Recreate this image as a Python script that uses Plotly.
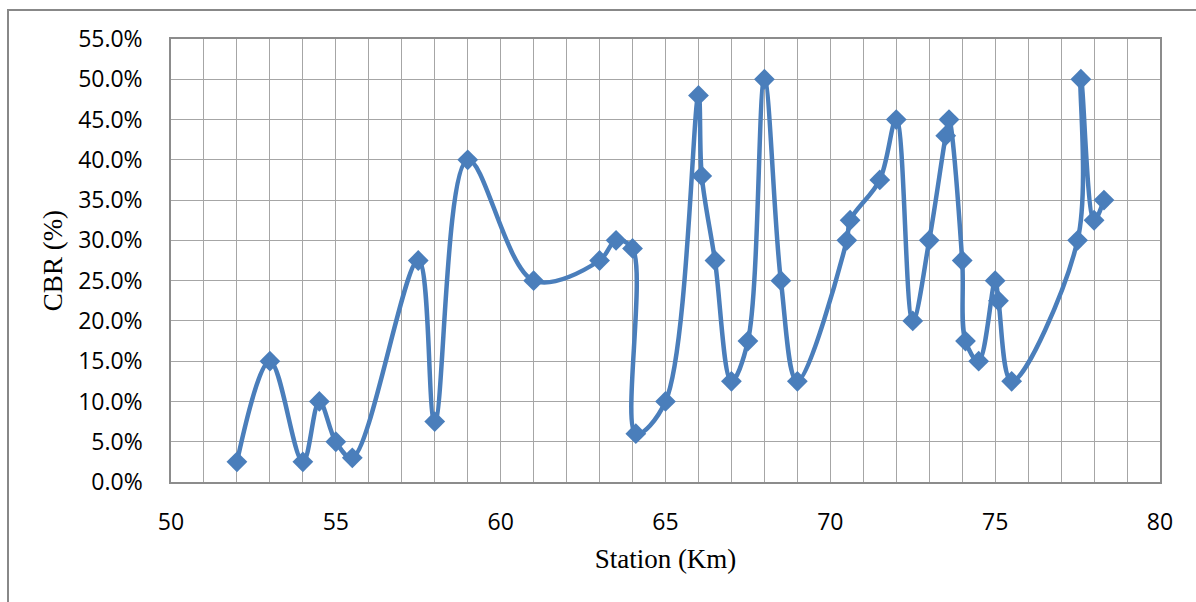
import plotly.graph_objects as go

station_km = [52, 53, 54, 54.5, 55, 55.5, 57.5, 58, 59, 61, 63, 63.5, 64, 64.1, 65,
              66, 66.1, 66.5, 67, 67.5, 68, 68.5, 69, 70.5, 70.6, 71.5, 72, 72.5, 73,
              73.5, 73.6, 74, 74.1, 74.5, 75, 75.1, 75.5, 77.5, 77.6, 78, 78.3]
cbr_pct = [2.5, 15, 2.5, 10, 5, 3, 27.5, 7.5, 40, 25, 27.5, 30, 29, 6, 10,
           48, 38, 27.5, 12.5, 17.5, 50, 25, 12.5, 30, 32.5, 37.5, 45, 20, 30,
           43, 45, 27.5, 17.5, 15, 25, 22.5, 12.5, 30, 50, 32.5, 35]
cbr = [v / 100 for v in cbr_pct]

x_title = "Station (Km)"
y_title = "CBR (%)"

COLOR = "#4a7ebb"
GRID = "#a6a6a6"

fig = go.Figure()
fig.add_trace(go.Scatter(
    x=station_km, y=cbr, mode="lines+markers",
    line=dict(color=COLOR, width=4.5, shape="spline", smoothing=1.0),
    marker=dict(symbol="diamond", size=16, color=COLOR),
    showlegend=False,
))

W, H = 1196, 602
L, R, T, B = 171, 36, 39, 120
pw, ph = W - L - R, H - T - B

fig.update_layout(
    width=W, height=H,
    margin=dict(l=L, r=R, t=T, b=B, pad=0),
    paper_bgcolor="white", plot_bgcolor="white",
    font=dict(family="Open Sans", size=23, color="#000000"),
    xaxis=dict(
        range=[50, 80], dtick=5, tick0=50,
        showgrid=True, gridcolor=GRID, gridwidth=1.3,
        minor=dict(dtick=1, showgrid=True, gridcolor=GRID, gridwidth=1.3),
        showline=True, linecolor="#8c8c8c", linewidth=1.5, mirror=True,
        zeroline=False, ticks="", ticklabelstandoff=19,
        tickfont=dict(family="Open Sans", size=23),
        title=dict(text=x_title, font=dict(family="Liberation Serif", size=27), standoff=13),
        automargin=False, fixedrange=True,
    ),
    yaxis=dict(
        range=[0, 0.55], dtick=0.05, tick0=0, tickformat=".1%",
        showgrid=True, gridcolor=GRID, gridwidth=1.3,
        showline=True, linecolor="#8c8c8c", linewidth=1.5, mirror=True,
        zeroline=False, ticks="", ticklabelstandoff=22,
        tickfont=dict(family="Open Sans", size=23),
        title=dict(text=y_title, font=dict(family="Liberation Serif", size=27), standoff=8),
        automargin=False, fixedrange=True,
    ),
)

# outer chart border (left and top edges visible)
bx0 = (8 - L) / pw
by1 = (H - B - 10) / ph
fig.add_shape(type="rect", xref="paper", yref="paper",
              x0=bx0, x1=1.2, y0=-0.4, y1=by1,
              line=dict(color="#888888", width=2), fillcolor="rgba(0,0,0,0)", layer="below")

fig.write_html("out.html")
